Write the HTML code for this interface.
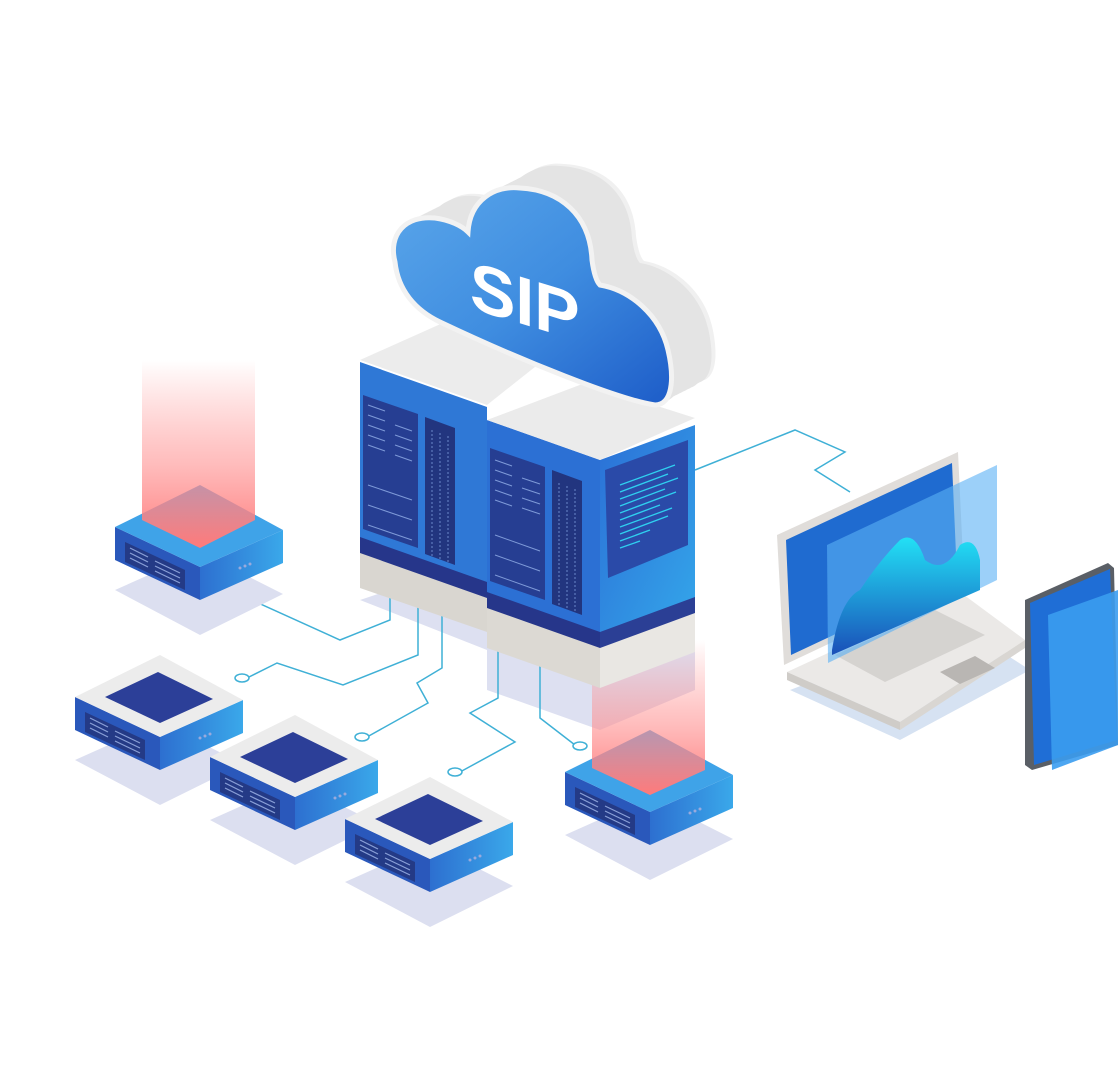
<!DOCTYPE html>
<html><head><meta charset="utf-8"><style>html,body{margin:0;padding:0;background:#fff}svg{display:block}</style></head>
<body>
<svg width="1118" height="1084" viewBox="0 0 1118 1084" xmlns="http://www.w3.org/2000/svg">
<defs>
<linearGradient id="beam" x1="0" y1="0" x2="0" y2="1">
<stop offset="0" stop-color="#ff8080" stop-opacity="0"/><stop offset="0.55" stop-color="#ff9090" stop-opacity="0.6"/><stop offset="1" stop-color="#ff7a7a" stop-opacity="1"/></linearGradient>
<linearGradient id="rface" x1="0" y1="0" x2="1" y2="0"><stop offset="0" stop-color="#2d6fd0"/><stop offset="1" stop-color="#3aa8ea"/></linearGradient>
<linearGradient id="tface" x1="0" y1="0" x2="1" y2="1"><stop offset="0" stop-color="#2b6fd6"/><stop offset="1" stop-color="#34a6ea"/></linearGradient>
<linearGradient id="cloudb" x1="0" y1="0" x2="1" y2="1"><stop offset="0" stop-color="#5aa6ea"/><stop offset="0.5" stop-color="#3f8de0"/><stop offset="1" stop-color="#1d5cc8"/></linearGradient>
<linearGradient id="wave" x1="0" y1="0" x2="0" y2="1"><stop offset="0" stop-color="#22e0f5"/><stop offset="1" stop-color="#1a4fb8"/></linearGradient>
<path id="cl" d="M395,262 C388,235 405,215 435,218 C450,220 462,226 468,232 C470,200 495,185 520,188 C560,190 590,215 592,260 C594,275 597,282 600,285 C630,290 660,315 668,350 C675,380 672,405 655,405 C620,400 520,360 440,322 C415,310 398,290 395,262 Z"/>
<g id="dev">
<polygon points="75,760 160,722 243,764 160,805" fill="#dcdff0"/>
<polygon points="75,697 160,737 160,770 75,730" fill="#2a58bb"/>
<polygon points="160,737 243,700 243,733 160,770" fill="url(#rface)"/>
<polygon points="85,712 145,740 145,760 85,732" fill="#243a86"/>
<g stroke="#8aa0d8" stroke-width="1.2"><line x1="90" y1="718" x2="108" y2="727"/><line x1="90" y1="723" x2="108" y2="732"/><line x1="90" y1="728" x2="108" y2="737"/><line x1="115" y1="731" x2="140" y2="743"/><line x1="115" y1="736" x2="140" y2="748"/><line x1="115" y1="741" x2="140" y2="753"/></g>
<circle cx="200" cy="738" r="1.5" fill="#9ad"/><circle cx="205" cy="736" r="1.5" fill="#9ad"/><circle cx="210" cy="734" r="1.5" fill="#9ad"/>
</g>
</defs>
<rect width="1118" height="1084" fill="#fff"/>

<polygon points="360,600 487,650 487,690 600,730 695,690 695,650 560,610 420,580" fill="#dde0f1"/>

<g fill="none" stroke="#3fb0d6" stroke-width="1.5">
<polyline points="245,597 340,640 390,620 390,585"/>
<polyline points="247,678 277,663 343,685 418,655 418,600"/>
<polyline points="367,737 428,703 417,683 442,668 442,605"/>
<polyline points="460,772 515,742 470,713 498,698 498,640"/>
<polyline points="540,640 540,718 575,745"/>
<polyline points="695,470 795,430 845,452 815,470 850,492"/>
</g>
<g fill="#fff" stroke="#3fb0d6" stroke-width="1.5">
<ellipse cx="240" cy="597" rx="7" ry="4"/><ellipse cx="242" cy="678" rx="7" ry="4"/><ellipse cx="362" cy="737" rx="7" ry="4"/><ellipse cx="455" cy="772" rx="7" ry="4"/><ellipse cx="580" cy="746" rx="7" ry="4"/>
</g>

<g transform="translate(40,-170)">
<use href="#dev"/>
<polygon points="75,697 160,655 243,700 160,737" fill="#3fa3e8"/>
</g>
<polygon points="142,360 255,360 255,520 200,548 142,520" fill="url(#beam)"/>

<g><use href="#dev"/><polygon points="75,697 160,655 243,700 160,737" fill="#ececec"/><polygon points="105,697 158,672 213,699 160,723" fill="#2c3f98"/></g>
<g transform="translate(135,60)"><use href="#dev"/><polygon points="75,697 160,655 243,700 160,737" fill="#ececec"/><polygon points="105,697 158,672 213,699 160,723" fill="#2c3f98"/></g>
<g transform="translate(270,122)"><use href="#dev"/><polygon points="75,697 160,655 243,700 160,737" fill="#ececec"/><polygon points="105,697 158,672 213,699 160,723" fill="#2c3f98"/></g>

<g transform="translate(490,75)">
<use href="#dev"/>
<polygon points="75,697 160,655 243,700 160,737" fill="#3fa3e8"/>
</g>
<polygon points="592,640 705,640 705,770 650,795 592,768" fill="url(#beam)"/>

<!-- left tower -->
<polygon points="360,550 487,595 487,632 360,588" fill="#d9d6d0"/>
<polygon points="360,535 487,580 487,598 360,553" fill="#26368a"/>
<polygon points="360,362 487,407 487,582 360,537" fill="#2f78d6"/>
<polygon points="360,360 445,322 550,355 487,405" fill="#ececec"/>
<polygon points="363,395 418,414 418,548 363,529" fill="#263e92"/>
<polygon points="425,417 455,428 455,565 425,554" fill="#22357f"/>
<g stroke="#7e9ad8" stroke-width="1">
<line x1="368" y1="405" x2="385" y2="411"/><line x1="368" y1="415" x2="385" y2="421"/><line x1="368" y1="425" x2="385" y2="431"/><line x1="368" y1="435" x2="385" y2="441"/><line x1="368" y1="445" x2="385" y2="451"/>
<line x1="395" y1="425" x2="412" y2="431"/><line x1="395" y1="435" x2="412" y2="441"/><line x1="395" y1="445" x2="412" y2="451"/><line x1="395" y1="455" x2="412" y2="461"/>
<line x1="368" y1="485" x2="412" y2="500"/><line x1="368" y1="505" x2="412" y2="520"/><line x1="368" y1="525" x2="412" y2="540"/>
</g>
<g stroke="#6b86c8" stroke-width="1" stroke-dasharray="2 2"><line x1="432" y1="430" x2="432" y2="556"/><line x1="440" y1="433" x2="440" y2="559"/><line x1="448" y1="436" x2="448" y2="562"/></g>

<!-- right tower -->
<polygon points="487,605 600,645 600,688 487,648" fill="#dcd9d3"/>
<polygon points="600,645 695,610 695,652 600,688" fill="#e9e7e3"/>
<polygon points="487,590 600,630 600,648 487,608" fill="#26368a"/>
<polygon points="600,630 695,595 695,613 600,648" fill="#2b3f95"/>
<polygon points="487,420 600,460 600,632 487,592" fill="#2c70d4"/>
<polygon points="600,460 695,425 695,597 600,632" fill="url(#tface)"/>
<polygon points="487,420 585,383 695,418 600,460" fill="#ebebeb"/>
<polygon points="490,448 545,467 545,600 490,581" fill="#263e92"/>
<polygon points="552,470 582,481 582,615 552,604" fill="#22357f"/>
<g stroke="#7e9ad8" stroke-width="1">
<line x1="495" y1="460" x2="512" y2="466"/><line x1="495" y1="470" x2="512" y2="476"/><line x1="495" y1="480" x2="512" y2="486"/><line x1="495" y1="490" x2="512" y2="496"/><line x1="495" y1="500" x2="512" y2="506"/>
<line x1="522" y1="478" x2="540" y2="484"/><line x1="522" y1="488" x2="540" y2="494"/><line x1="522" y1="498" x2="540" y2="504"/><line x1="522" y1="508" x2="540" y2="514"/>
<line x1="495" y1="535" x2="540" y2="551"/><line x1="495" y1="555" x2="540" y2="571"/><line x1="495" y1="575" x2="540" y2="591"/>
</g>
<g stroke="#6b86c8" stroke-width="1" stroke-dasharray="2 2"><line x1="559" y1="483" x2="559" y2="607"/><line x1="567" y1="486" x2="567" y2="610"/><line x1="575" y1="489" x2="575" y2="613"/></g>
<polygon points="605,470 688,440 688,545 608,578" fill="#2a4aa8"/>
<g stroke="#2fd0f0" stroke-width="1.3">
<line x1="620" y1="485" x2="675" y2="465"/><line x1="620" y1="492" x2="668" y2="474"/><line x1="620" y1="499" x2="678" y2="478"/><line x1="620" y1="506" x2="665" y2="489"/><line x1="620" y1="513" x2="676" y2="492"/><line x1="620" y1="520" x2="660" y2="505"/><line x1="620" y1="527" x2="672" y2="508"/><line x1="620" y1="534" x2="668" y2="516"/><line x1="620" y1="541" x2="650" y2="530"/><line x1="620" y1="548" x2="640" y2="541"/>
</g>

<!-- cloud extrusion -->
<g fill="#e4e4e4">
<use href="#cl" transform="translate(44,-24)" fill="#f0f0f0"/>
<use href="#cl" transform="translate(40,-22)"/>
<use href="#cl" transform="translate(36,-20)"/>
<use href="#cl" transform="translate(32,-17)"/>
<use href="#cl" transform="translate(28,-15)"/>
<use href="#cl" transform="translate(24,-13)"/>
<use href="#cl" transform="translate(20,-11)"/>
<use href="#cl" transform="translate(16,-9)"/>
<use href="#cl" transform="translate(12,-7)"/>
<use href="#cl" transform="translate(8,-4)"/>
<use href="#cl" transform="translate(4,-2)"/>
</g>
<use href="#cl" fill="url(#cloudb)" stroke="#f2f2f2" stroke-width="5"/>
<g transform="translate(470,308) skewY(17)">
<text x="0" y="0" font-family="Liberation Sans, sans-serif" font-weight="bold" font-size="68" fill="#fff">SIP</text>
</g>

<!-- laptop -->
<polygon points="790,690 900,740 1030,670 960,625" fill="#d6e2f2"/>
<polygon points="787,672 960,592 1025,640 900,722" fill="#ebe9e7"/>
<polygon points="787,672 900,722 900,730 787,680" fill="#cfccc8"/>
<polygon points="900,722 1025,640 1025,648 900,730" fill="#d9d6d2"/>
<polygon points="835,655 935,610 985,635 885,682" fill="#d0cdca" opacity="0.8"/>
<polygon points="940,672 975,656 995,668 960,684" fill="#b9b6b3"/>
<polygon points="777,535 958,452 964,580 784,665" fill="#e0ddda"/>
<polygon points="786,540 952,463 957,577 791,655" fill="#1f6bd0"/>
<polygon points="827,545 997,465 997,580 828,663" fill="#5ab0f5" opacity="0.6"/>
<path d="M832,650 Q840,600 860,590 Q880,560 900,540 Q915,530 925,560 Q945,575 960,545 Q975,535 980,560 L980,590 L832,655 Z" fill="url(#wave)"/>

<!-- phone -->
<polygon points="1025,600 1108,563 1114,568 1118,745 1032,770 1025,765" fill="#5a5f66"/>
<polygon points="1030,603 1110,569 1117,740 1034,765" fill="#1f6ed6"/>
<polygon points="1048,615 1118,590 1118,745 1052,770" fill="#3a9cf0" opacity="0.9"/>
</svg>
</body></html>
